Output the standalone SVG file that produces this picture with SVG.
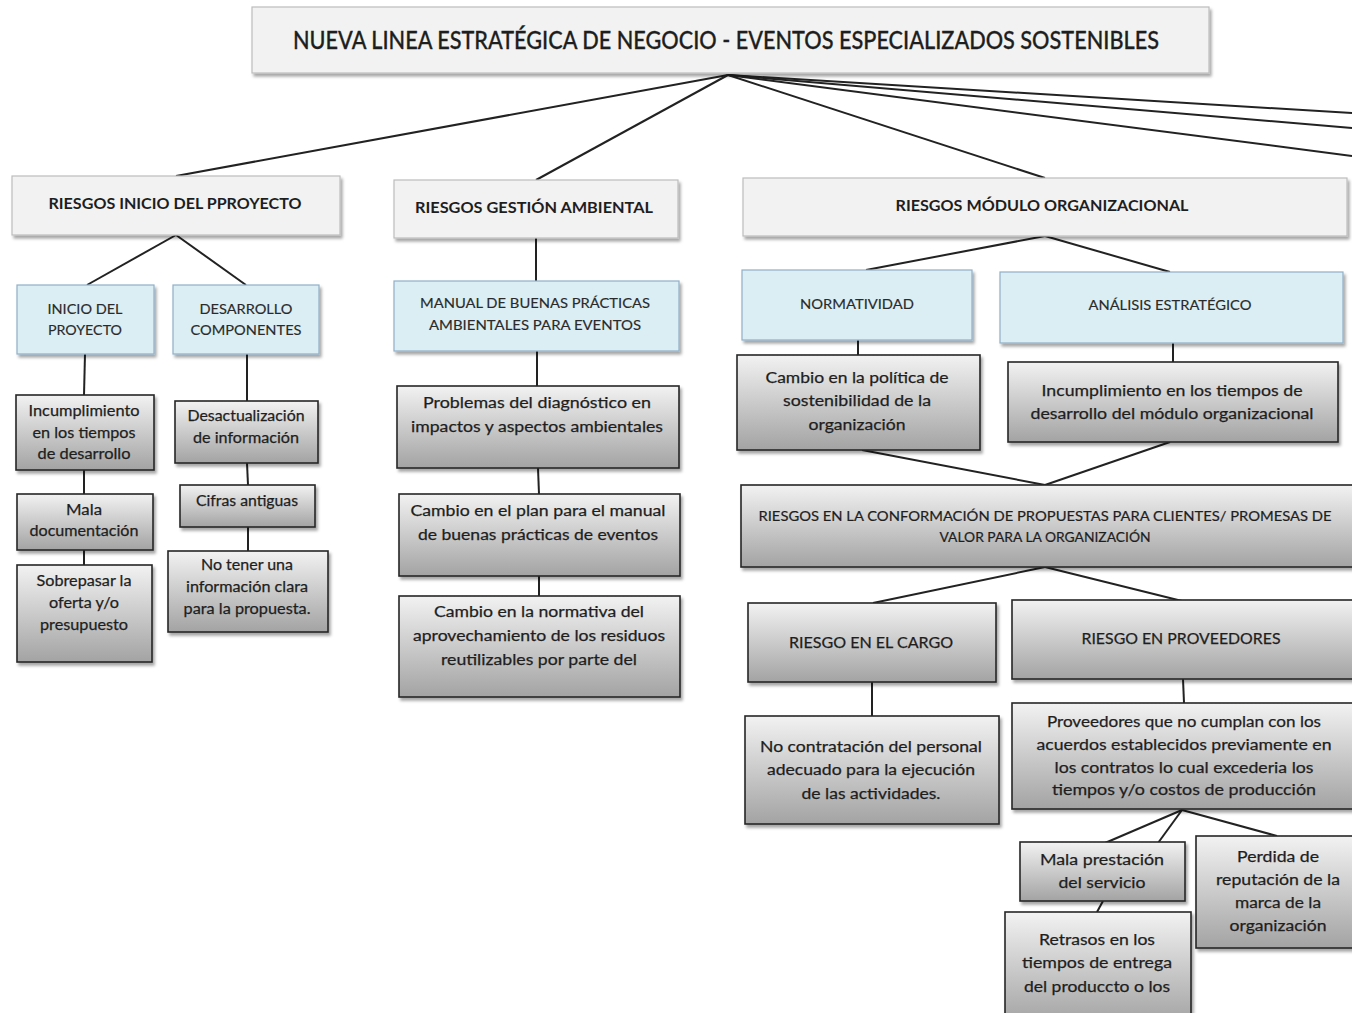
<svg xmlns="http://www.w3.org/2000/svg" width="1352" height="1013" viewBox="0 0 1352 1013">
  <defs>
    <linearGradient id="grayGrad" x1="0" y1="0" x2="0" y2="1">
      <stop offset="0" stop-color="#f2f2f2"/>
      <stop offset="1" stop-color="#a3a3a3"/>
    </linearGradient>
    <filter id="shadow" x="-10%" y="-10%" width="130%" height="140%">
      <feDropShadow dx="2" dy="3" stdDeviation="1.8" flood-color="#000" flood-opacity="0.35"/>
    </filter>
  </defs>
  <style>
    .head { fill: #f2f2f2; stroke: #bdbdbd; stroke-width: 1.2; filter: url(#shadow); }
    .blue { fill: #dbeef4; stroke: #8fb0c8; stroke-width: 1.2; filter: url(#shadow); }
    .grad { fill: url(#grayGrad); stroke: #262626; stroke-width: 1.6; filter: url(#shadow); }
    text { font-family: Lato, "Open Sans", "Liberation Sans", sans-serif; fill: #1e1e1e; text-anchor: middle; }
    .t-title { font-size: 25px; font-weight: 500; stroke: #1e1e1e; stroke-width: 0.3; }
    .t-head { font-size: 16px; font-weight: 700; }
    .t-blue { font-size: 14px; fill: #2a2a2a; stroke: #2a2a2a; stroke-width: 0.15; }
    .t-body { font-size: 15.5px; stroke: #1e1e1e; stroke-width: 0.25; }
    .t-small { font-size: 13.5px; stroke: #1e1e1e; stroke-width: 0.2; }
    .conn line { stroke: #222; stroke-width: 2; }
  </style>
  <rect width="1352" height="1013" fill="#ffffff"/>

  <!-- connectors -->
  <g class="conn" id="connectors">
    <line x1="728" y1="75" x2="176" y2="176"/>
    <line x1="728" y1="75" x2="536" y2="180"/>
    <line x1="728" y1="75" x2="1045" y2="178"/>
    <line x1="728" y1="75" x2="1352" y2="113"/>
    <line x1="728" y1="75" x2="1352" y2="128"/>
    <line x1="728" y1="75" x2="1352" y2="156"/>
    <line x1="176" y1="235" x2="87" y2="285"/>
    <line x1="176" y1="235" x2="246" y2="285"/>
    <line x1="85" y1="354" x2="84" y2="395"/>
    <line x1="84" y1="470" x2="84" y2="494"/>
    <line x1="84" y1="550" x2="84" y2="565"/>
    <line x1="247" y1="354" x2="247" y2="401"/>
    <line x1="247" y1="463" x2="248" y2="485"/>
    <line x1="248" y1="527" x2="248" y2="551"/>
    <line x1="536" y1="238" x2="536" y2="281"/>
    <line x1="537" y1="351" x2="537" y2="386"/>
    <line x1="538" y1="468" x2="539" y2="494"/>
    <line x1="539" y1="576" x2="539" y2="596"/>
    <line x1="1045" y1="236" x2="866" y2="270"/>
    <line x1="1045" y1="236" x2="1170" y2="272"/>
    <line x1="858" y1="340" x2="858" y2="355"/>
    <line x1="1173" y1="343" x2="1173" y2="362"/>
    <line x1="862" y1="450" x2="1045" y2="485"/>
    <line x1="1170" y1="442" x2="1045" y2="485"/>
    <line x1="1045" y1="567" x2="873" y2="603"/>
    <line x1="1045" y1="567" x2="1182" y2="601"/>
    <line x1="872" y1="682" x2="872" y2="716"/>
    <line x1="1183" y1="679" x2="1184" y2="703"/>
    <line x1="1182" y1="810" x2="1105" y2="843"/>
    <line x1="1182" y1="810" x2="1158" y2="843"/>
    <line x1="1182" y1="810" x2="1277" y2="836"/>
    <line x1="1103" y1="901" x2="1097" y2="912"/>
  </g>

  <!-- root -->
  <g id="title">
    <rect class="head" x="252" y="7" width="957" height="66"/>
    <text class="t-title" x="726" y="49" textLength="866" lengthAdjust="spacingAndGlyphs">NUEVA LINEA ESTRATÉGICA DE NEGOCIO - EVENTOS ESPECIALIZADOS SOSTENIBLES</text>
  </g>

  <!-- branch headers -->
  <g id="riesgos-inicio">
    <rect class="head" x="12" y="176" width="328" height="59"/>
    <text class="t-head" x="175" y="209" textLength="253" lengthAdjust="spacingAndGlyphs">RIESGOS INICIO DEL PPROYECTO</text>
  </g>
  <g id="riesgos-ambiental">
    <rect class="head" x="394" y="180" width="284" height="58"/>
    <text class="t-head" x="534" y="213" textLength="238" lengthAdjust="spacingAndGlyphs">RIESGOS GESTIÓN AMBIENTAL</text>
  </g>
  <g id="riesgos-modulo">
    <rect class="head" x="743" y="178" width="604" height="58"/>
    <text class="t-head" x="1042" y="211" textLength="293" lengthAdjust="spacingAndGlyphs">RIESGOS MÓDULO ORGANIZACIONAL</text>
  </g>

  <!-- categories -->
  <g id="inicio-proyecto">
    <rect class="blue" x="17" y="285" width="137" height="69"/>
    <text class="t-blue" x="85" y="314" textLength="75" lengthAdjust="spacingAndGlyphs">INICIO DEL</text>
    <text class="t-blue" x="85" y="335" textLength="74" lengthAdjust="spacingAndGlyphs">PROYECTO</text>
  </g>
  <g id="desarrollo-componentes">
    <rect class="blue" x="173" y="285" width="146" height="69"/>
    <text class="t-blue" x="246" y="314" textLength="93" lengthAdjust="spacingAndGlyphs">DESARROLLO</text>
    <text class="t-blue" x="246" y="335" textLength="111" lengthAdjust="spacingAndGlyphs">COMPONENTES</text>
  </g>
  <g id="manual-buenas-practicas">
    <rect class="blue" x="394" y="281" width="285" height="70"/>
    <text class="t-blue" x="535" y="308" textLength="230" lengthAdjust="spacingAndGlyphs">MANUAL DE BUENAS PRÁCTICAS</text>
    <text class="t-blue" x="535" y="330" textLength="212" lengthAdjust="spacingAndGlyphs">AMBIENTALES PARA EVENTOS</text>
  </g>
  <g id="normatividad">
    <rect class="blue" x="742" y="270" width="230" height="70"/>
    <text class="t-blue" x="857" y="309" textLength="114" lengthAdjust="spacingAndGlyphs">NORMATIVIDAD</text>
  </g>
  <g id="analisis-estrategico">
    <rect class="blue" x="1000" y="272" width="343" height="71"/>
    <text class="t-blue" x="1170" y="310" textLength="163" lengthAdjust="spacingAndGlyphs">ANÁLISIS ESTRATÉGICO</text>
  </g>

  <!-- inicio del proyecto risks -->
  <g id="incumplimiento-desarrollo">
    <rect class="grad" x="16" y="395" width="138" height="75"/>
    <text class="t-body" x="84" y="416" textLength="111" lengthAdjust="spacingAndGlyphs">Incumplimiento</text>
    <text class="t-body" x="84" y="438" textLength="103" lengthAdjust="spacingAndGlyphs">en los tiempos</text>
    <text class="t-body" x="84" y="459" textLength="93" lengthAdjust="spacingAndGlyphs">de desarrollo</text>
  </g>
  <g id="mala-documentacion">
    <rect class="grad" x="17" y="494" width="136" height="56"/>
    <text class="t-body" x="84" y="515" textLength="36" lengthAdjust="spacingAndGlyphs">Mala</text>
    <text class="t-body" x="84" y="536" textLength="109" lengthAdjust="spacingAndGlyphs">documentación</text>
  </g>
  <g id="sobrepasar-oferta">
    <rect class="grad" x="17" y="565" width="135" height="97"/>
    <text class="t-body" x="84" y="586" textLength="95" lengthAdjust="spacingAndGlyphs">Sobrepasar la</text>
    <text class="t-body" x="84" y="608" textLength="70" lengthAdjust="spacingAndGlyphs">oferta y/o</text>
    <text class="t-body" x="84" y="630" textLength="88" lengthAdjust="spacingAndGlyphs">presupuesto</text>
  </g>

  <!-- desarrollo componentes risks -->
  <g id="desactualizacion">
    <rect class="grad" x="175" y="401" width="143" height="62"/>
    <text class="t-body" x="246" y="421" textLength="117" lengthAdjust="spacingAndGlyphs">Desactualización</text>
    <text class="t-body" x="246" y="443" textLength="106" lengthAdjust="spacingAndGlyphs">de información</text>
  </g>
  <g id="cifras-antiguas">
    <rect class="grad" x="180" y="485" width="135" height="42"/>
    <text class="t-body" x="247" y="506" textLength="102" lengthAdjust="spacingAndGlyphs">Cifras antiguas</text>
  </g>
  <g id="informacion-clara">
    <rect class="grad" x="168" y="551" width="160" height="81"/>
    <text class="t-body" x="247" y="570" textLength="92" lengthAdjust="spacingAndGlyphs">No tener una</text>
    <text class="t-body" x="247" y="592" textLength="122" lengthAdjust="spacingAndGlyphs">información clara</text>
    <text class="t-body" x="247" y="614" textLength="127" lengthAdjust="spacingAndGlyphs">para la propuesta.</text>
  </g>

  <!-- gestión ambiental risks -->
  <g id="problemas-diagnostico">
    <rect class="grad" x="397" y="386" width="282" height="82"/>
    <text class="t-body" x="537" y="408" textLength="228" lengthAdjust="spacingAndGlyphs">Problemas del diagnóstico  en</text>
    <text class="t-body" x="537" y="432" textLength="252" lengthAdjust="spacingAndGlyphs">impactos y aspectos ambientales</text>
  </g>
  <g id="cambio-plan-manual">
    <rect class="grad" x="399" y="494" width="281" height="82"/>
    <text class="t-body" x="538" y="516" textLength="255" lengthAdjust="spacingAndGlyphs">Cambio en el plan para el manual</text>
    <text class="t-body" x="538" y="540" textLength="240" lengthAdjust="spacingAndGlyphs">de buenas prácticas de eventos</text>
  </g>
  <g id="cambio-normativa">
    <rect class="grad" x="399" y="596" width="281" height="101"/>
    <text class="t-body" x="539" y="617" textLength="210" lengthAdjust="spacingAndGlyphs">Cambio en la normativa del</text>
    <text class="t-body" x="539" y="641" textLength="252" lengthAdjust="spacingAndGlyphs">aprovechamiento de los residuos</text>
    <text class="t-body" x="539" y="665" textLength="196" lengthAdjust="spacingAndGlyphs">reutilizables por parte del</text>
  </g>

  <!-- módulo organizacional risks -->
  <g id="cambio-politica">
    <rect class="grad" x="737" y="355" width="243" height="95"/>
    <text class="t-body" x="857" y="383" textLength="183" lengthAdjust="spacingAndGlyphs">Cambio en la política de</text>
    <text class="t-body" x="857" y="406" textLength="148" lengthAdjust="spacingAndGlyphs">sostenibilidad de la</text>
    <text class="t-body" x="857" y="430" textLength="97" lengthAdjust="spacingAndGlyphs">organización</text>
  </g>
  <g id="incumplimiento-modulo">
    <rect class="grad" x="1008" y="362" width="330" height="80"/>
    <text class="t-body" x="1172" y="396" textLength="261" lengthAdjust="spacingAndGlyphs">Incumplimiento en los tiempos de</text>
    <text class="t-body" x="1172" y="419" textLength="283" lengthAdjust="spacingAndGlyphs">desarrollo del módulo organizacional</text>
  </g>
  <g id="conformacion-propuestas">
    <rect class="grad" x="741" y="485" width="620" height="82"/>
    <text class="t-small" x="1045" y="521" textLength="573" lengthAdjust="spacingAndGlyphs">RIESGOS EN LA CONFORMACIÓN DE PROPUESTAS PARA CLIENTES/ PROMESAS DE</text>
    <text class="t-small" x="1045" y="542" textLength="211" lengthAdjust="spacingAndGlyphs">VALOR PARA LA ORGANIZACIÓN</text>
  </g>
  <g id="riesgo-cargo">
    <rect class="grad" x="748" y="603" width="248" height="79"/>
    <text class="t-body" x="871" y="648" textLength="164" lengthAdjust="spacingAndGlyphs">RIESGO EN EL CARGO</text>
  </g>
  <g id="riesgo-proveedores">
    <rect class="grad" x="1012" y="600" width="350" height="79"/>
    <text class="t-body" x="1181" y="644" textLength="199" lengthAdjust="spacingAndGlyphs">RIESGO EN PROVEEDORES</text>
  </g>
  <g id="no-contratacion">
    <rect class="grad" x="745" y="716" width="254" height="108"/>
    <text class="t-body" x="871" y="752" textLength="222" lengthAdjust="spacingAndGlyphs">No contratación del personal</text>
    <text class="t-body" x="871" y="775" textLength="208" lengthAdjust="spacingAndGlyphs">adecuado para la ejecución</text>
    <text class="t-body" x="871" y="799" textLength="139" lengthAdjust="spacingAndGlyphs">de las actividades.</text>
  </g>
  <g id="proveedores-incumplen">
    <rect class="grad" x="1012" y="703" width="350" height="106"/>
    <text class="t-body" x="1184" y="727" textLength="274" lengthAdjust="spacingAndGlyphs">Proveedores que no cumplan con los</text>
    <text class="t-body" x="1184" y="750" textLength="295" lengthAdjust="spacingAndGlyphs">acuerdos establecidos previamente en</text>
    <text class="t-body" x="1184" y="773" textLength="259" lengthAdjust="spacingAndGlyphs">los contratos lo cual excederia los</text>
    <text class="t-body" x="1184" y="795" textLength="264" lengthAdjust="spacingAndGlyphs">tiempos y/o costos de  producción</text>
  </g>
  <g id="mala-prestacion">
    <rect class="grad" x="1020" y="842" width="165" height="59"/>
    <text class="t-body" x="1102" y="865" textLength="124" lengthAdjust="spacingAndGlyphs">Mala prestación</text>
    <text class="t-body" x="1102" y="888" textLength="87" lengthAdjust="spacingAndGlyphs">del servicio</text>
  </g>
  <g id="perdida-reputacion">
    <rect class="grad" x="1196" y="836" width="166" height="112"/>
    <text class="t-body" x="1278" y="862" textLength="82" lengthAdjust="spacingAndGlyphs">Perdida de</text>
    <text class="t-body" x="1278" y="885" textLength="124" lengthAdjust="spacingAndGlyphs">reputación de la</text>
    <text class="t-body" x="1278" y="908" textLength="86" lengthAdjust="spacingAndGlyphs">marca de la</text>
    <text class="t-body" x="1278" y="931" textLength="97" lengthAdjust="spacingAndGlyphs">organización</text>
  </g>
  <g id="retrasos-entrega">
    <rect class="grad" x="1005" y="912" width="186" height="112"/>
    <text class="t-body" x="1097" y="945" textLength="116" lengthAdjust="spacingAndGlyphs">Retrasos en los</text>
    <text class="t-body" x="1097" y="968" textLength="150" lengthAdjust="spacingAndGlyphs">tiempos de entrega</text>
    <text class="t-body" x="1097" y="992" textLength="146" lengthAdjust="spacingAndGlyphs">del produccto o los</text>
  </g>
</svg>
